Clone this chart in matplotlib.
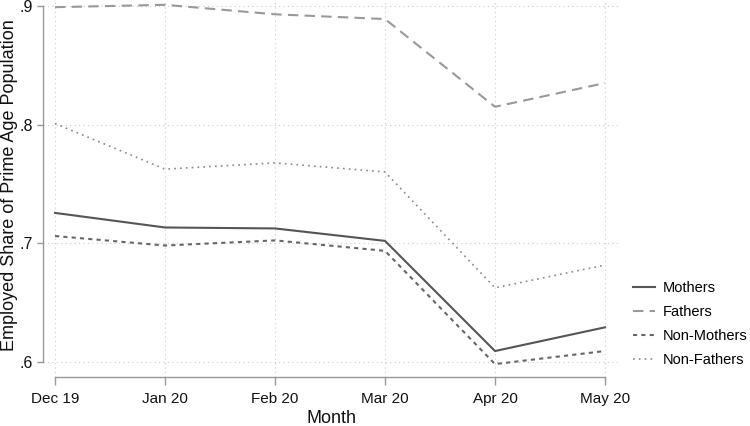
import matplotlib
matplotlib.use('Agg')
import matplotlib.pyplot as plt

plt.rcParams['font.family'] = ['Liberation Sans', 'DejaVu Sans']

months = ['Dec 19', 'Jan 20', 'Feb 20', 'Mar 20', 'Apr 20', 'May 20']
mothers = [0.7255, 0.7132, 0.7124, 0.7019, 0.609, 0.629]
fathers = [0.899, 0.901, 0.893, 0.889, 0.815, 0.835]
non_mothers = [0.706, 0.698, 0.7023, 0.6935, 0.598, 0.609]
non_fathers = [0.8009, 0.7624, 0.7677, 0.760, 0.6623, 0.6815]
yticks = [0.6, 0.7, 0.8, 0.9]
ytick_labels = ['.6', '.7', '.8', '.9']

x = list(range(len(months)))

fig = plt.figure(figsize=(7.5, 4.26), dpi=100)
ax = fig.add_axes([43 / 750, 1 - 377 / 426, (620 - 43) / 750, 377 / 426])

ax.plot(x, mothers, color='#555555', lw=1.5, label='Mothers')
ax.plot(x, fathers, color='#999999', lw=1.5, linestyle=(0, (5, 3)), label='Fathers')
ax.plot(x, non_mothers, color='#666666', lw=1.5, linestyle=(0, (2, 2)), label='Non-Mothers')
ax.plot(x, non_fathers, color='#888888', lw=1.2, linestyle=(0, (1, 2.5)), label='Non-Fathers')

ax.set_xlim(-12 / 110, 5 + 15 / 110)
ax.set_ylim(0.6 - 15.3 / 1186, 0.9 + 6 / 1186)

ax.set_xticks(x)
ax.set_xticklabels(months)
ax.set_yticks(yticks)
ax.set_yticklabels(ytick_labels)

ax.grid(True, linestyle=(0, (1, 3)), color='#cccccc', lw=0.8)
ax.set_axisbelow(True)

for s in ['top', 'right']:
    ax.spines[s].set_visible(False)
ax.spines['left'].set_bounds(0.6, 0.9)
ax.spines['bottom'].set_bounds(0, 5)
for s in ['left', 'bottom']:
    ax.spines[s].set_color('#999999')
    ax.spines[s].set_linewidth(1.0)

ax.tick_params(axis='y', length=4.5, width=1.0, color='#999999', labelsize=11.5, pad=2.5, labelcolor='#111111')
ax.tick_params(axis='x', length=5.5, width=1.0, color='#999999', labelsize=11, pad=5, labelcolor='#111111')

ax.set_xlabel('Month', fontsize=13, color='#111111')
ax.xaxis.set_label_coords(0.5, -0.087)
ax.set_ylabel('Employed Share of Prime Age Population', fontsize=13, color='#111111')
ax.yaxis.set_label_coords(-0.043, 0.51)

ax.legend(loc='upper left', bbox_to_anchor=(1.0225, 0.255), frameon=False, fontsize=10.5,
          handlelength=1.5, handletextpad=0.55, labelspacing=0.7,
          borderpad=0, borderaxespad=0)

fig.savefig('out.png', dpi=100)
